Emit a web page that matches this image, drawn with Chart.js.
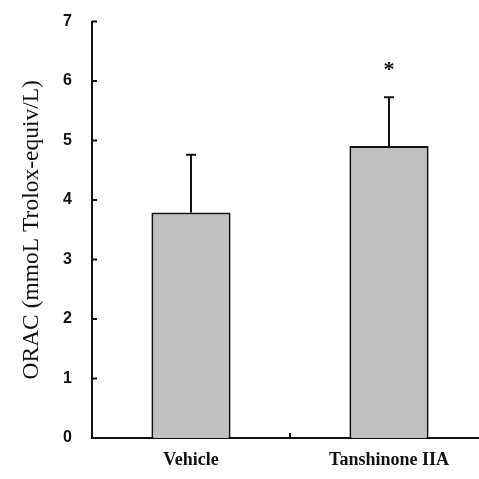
<!DOCTYPE html>
<html>
<head>
<meta charset="utf-8">
<script src="https://cdn.jsdelivr.net/npm/chart.js@4/dist/chart.umd.min.js"></script>
<style>
  html, body { margin: 0; padding: 0; background: #fff; overflow: hidden; }
  #wrap { width: 488px; height: 479px; }
</style>
</head>
<body>
<div id="wrap"><canvas id="c" width="488" height="479"></canvas></div>
<script>
const categories = ['Vehicle', 'Tanshinone IIA'];
const means = [3.79, 4.91];
const errors = [0.97, 0.82];
const significance = ['', '*'];
const yTicks = [0, 1, 2, 3, 4, 5, 6, 7];

const ink = '#111111';

const extras = {
  id: 'extras',
  afterDatasetsDraw(chart) {
    const ctx = chart.ctx;
    const ys = chart.scales.y;
    const xs = chart.scales.x;
    const area = chart.chartArea;
    const meta = chart.getDatasetMeta(0);
    ctx.save();
    ctx.strokeStyle = ink;
    ctx.fillStyle = ink;
    ctx.lineWidth = 2;
    meta.data.forEach((bar, i) => {
      const top = ys.getPixelForValue(means[i] + errors[i]);
      ctx.beginPath();
      ctx.moveTo(bar.x, bar.y);
      ctx.lineTo(bar.x, top);
      ctx.moveTo(bar.x - 5, top);
      ctx.lineTo(bar.x + 5, top);
      ctx.stroke();
      if (significance[i]) {
        ctx.font = 'bold 22px "Liberation Serif"';
        ctx.textAlign = 'center';
        ctx.textBaseline = 'alphabetic';
        ctx.fillText(significance[i], bar.x, top - 21);
      }
    });
    // inside y ticks
    ctx.beginPath();
    yTicks.forEach(v => {
      const p = ys.getPixelForValue(v);
      ctx.moveTo(area.left, p);
      ctx.lineTo(area.left + 5, p);
    });
    // x tick between categories
    for (let i = 0; i < categories.length - 1; i++) {
      const p = (xs.getPixelForTick(i) + xs.getPixelForTick(i + 1)) / 2;
      ctx.moveTo(p, area.bottom);
      ctx.lineTo(p, area.bottom - 5);
    }
    ctx.stroke();
    ctx.restore();
  }
};

new Chart(document.getElementById('c'), {
  type: 'bar',
  data: {
    labels: categories,
    datasets: [{
      data: means,
      backgroundColor: '#c0c0c0',
      borderColor: ink,
      borderWidth: 2,
      barPercentage: 0.4,
      categoryPercentage: 1.0
    }]
  },
  options: {
    responsive: false,
    animation: false,
    layout: { padding: { top: 19, right: 0, left: 0, bottom: 0 } },
    plugins: { legend: { display: false }, tooltip: { enabled: false } },
    scales: {
      x: {
        z: 1,
        offset: true,
        grid: { display: false },
        border: { display: true, color: ink, width: 2 },
        ticks: {
          color: ink,
          padding: 4,
          font: { family: '"Liberation Serif"', size: 18, weight: 'bold' }
        },
        afterFit(s) { s.height = 41; }
      },
      y: {
        min: 0,
        max: 7,
        grid: { display: false },
        border: { display: true, color: ink, width: 2 },
        ticks: {
          stepSize: 1,
          color: ink,
          padding: 12,
          font: { family: '"Liberation Sans"', size: 16, weight: 'bold' }
        },
        title: {
          display: true,
          text: 'ORAC (mmoL Trolox-equiv/L)',
          color: ink,
          padding: { top: 18, bottom: 0 },
          font: { family: '"Liberation Serif"', size: 23.5 }
        },
        afterFit(s) { s.width = 92; }
      }
    }
  },
  plugins: [extras]
});
</script>
</body>
</html>
